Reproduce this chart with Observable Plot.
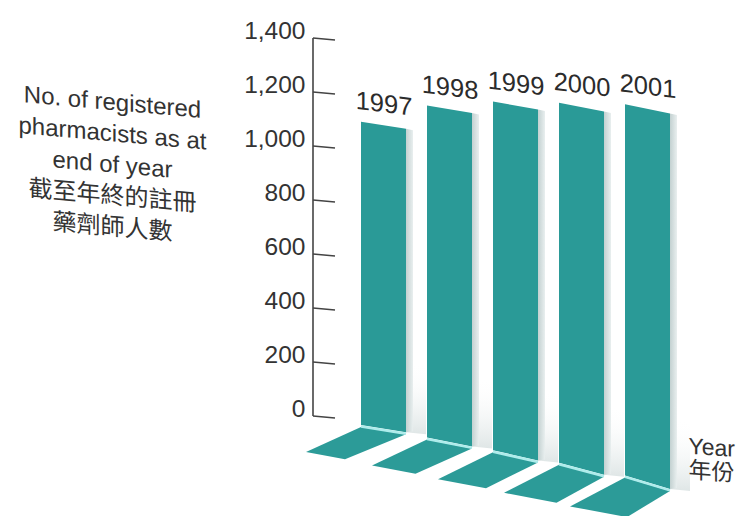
<!DOCTYPE html>
<html><head><meta charset="utf-8">
<script src="https://cdn.jsdelivr.net/npm/d3@7"></script>
<script src="https://cdn.jsdelivr.net/npm/@observablehq/plot@0.6"></script>
<style>
body{margin:0;background:#fff;}
#chart{width:739px;height:516px;}
</style>
</head><body><div id="chart"></div>
<script>
// ---- data ----
const years = ["1997", "1998", "1999", "2000", "2001"];
const pharmacists = [1090, 1150, 1165, 1160, 1155];
const yTicks = [0, 200, 400, 600, 800, 1000, 1200, 1400];
const yTitleLines = ["No. of registered", "pharmacists as at", "end of year", "截至年終的註冊", "藥劑師人數"];
const xTitleLines = ["Year", "年份"];

const table = years.map((year, i) => ({year, value: pharmacists[i]}));

const TEAL = "#2a9a97", FLOOR = "#2c9b98", EDGE = "#aeeceb";

function bars3d(index, scales, values, dims) {
  const g = d3.create("svg:g");
  const defs = g.append("defs");
  const sg = defs.append("linearGradient").attr("id", "sideGrad").attr("x1", 0).attr("x2", 1).attr("y1", 0).attr("y2", 0);
  sg.append("stop").attr("offset", 0).attr("stop-color", "#c3d1d1");
  sg.append("stop").attr("offset", 1).attr("stop-color", "#e9efef");
  const wg = defs.append("linearGradient").attr("id", "wallGrad").attr("x1", 0).attr("x2", 0).attr("y1", 0).attr("y2", 1);
  wg.append("stop").attr("offset", 0).attr("stop-color", "#ffffff").attr("stop-opacity", 0);
  wg.append("stop").attr("offset", 1).attr("stop-color", "#dfe6e6").attr("stop-opacity", 1);
  const x = scales.x, y = scales.y;
  const bw = x.bandwidth();
  const y0 = y(0);
  table.forEach((d, i) => {
    const xl = x(d.year), xr = xl + bw;
    const tl = y(d.value);
    const tr = tl + bw * (0.155 + 0.013 * i);
    const bl = y0 + 9 + 12.6 * i;
    const br = bl + bw * (0.16 + 0.035 * i);
    g.append("polygon")
      .attr("points", [[xr, br - 70], [xr + 20, br - 66], [xr + 20, br + 2], [xr, br]].join(" "))
      .attr("fill", "url(#wallGrad)");
    g.append("polygon")
      .attr("points", [[xr, tr], [xr + 7, tr + 1.5], [xr + 7, br - 1], [xr, br]].join(" "))
      .attr("fill", "url(#sideGrad)");
    const vl = [-55, 25 + i], vr = [-61 + 4.5 * i, 25 + 0.3 * i];
    g.append("polygon")
      .attr("points", [[xl, bl + 2], [xr, br + 2], [xr + vr[0], br + 2 + vr[1]], [xl + vl[0], bl + 2 + vl[1]]].join(" "))
      .attr("fill", FLOOR);
    g.append("polygon")
      .attr("points", [[xl, tl], [xr, tr], [xr, br], [xl, bl]].join(" "))
      .attr("fill", TEAL);
    g.append("line")
      .attr("x1", xl).attr("y1", bl + 1.5).attr("x2", xr).attr("y2", br + 1.5)
      .attr("stroke", EDGE).attr("stroke-width", 2.5);
  });
  return g.node();
}

function axisLine(index, scales, values, dims) {
  const g = d3.create("svg:g").attr("stroke", "#444").attr("stroke-width", 1.6).attr("fill", "none");
  const ax = dims.marginLeft - 48;
  const y = scales.y;
  g.append("line").attr("x1", ax).attr("x2", ax)
    .attr("y1", y(d3.max(yTicks))).attr("y2", y(0));
  for (const t of yTicks) {
    g.append("line").attr("x1", ax).attr("x2", ax + 22)
      .attr("y1", y(t)).attr("y2", y(t) + 2);
  }
  return g.node();
}

const chart = Plot.plot({
  width: 739,
  height: 516,
  marginTop: 38,
  marginBottom: 100,
  marginLeft: 361,
  marginRight: 69,
  style: {
    fontFamily: "'Liberation Sans', Arial, 'Noto Sans CJK TC', sans-serif",
    fontSize: "24px",
    color: "#333",
    background: "#fff",
    overflow: "visible"
  },
  x: {type: "band", domain: years, paddingInner: 0.32, paddingOuter: 0, axis: null},
  y: {domain: [0, 1400], axis: null},
  marks: [
    bars3d,
    axisLine,
    Plot.axisY(yTicks, {anchor: "left", tickSize: 0, tickPadding: 0, dx: -56, dy: -7, label: null, fontSize: 24.5, fill: "#333"}),
    Plot.text(table, {x: "year", y: "value", text: "year", dy: -10, lineAnchor: "bottom", fontSize: 25.5, fill: "#2b2b2b"}),
    Plot.text([yTitleLines.join("\n")], {text: d => d, frameAnchor: "top-left", dx: 112 - 361, dy: 162 - 38, textAnchor: "middle", lineAnchor: "middle", lineHeight: 1.3, fontSize: 24, fill: "#333"}),
    Plot.text([xTitleLines.join("\n")], {text: d => d, frameAnchor: "top-left", dx: 688 - 361, dy: 436 - 38, textAnchor: "start", lineAnchor: "top", lineHeight: 1.05, fontSize: 23, fill: "#333"})
  ]
});

document.getElementById("chart").append(chart);

// shear labels like the reference, about each text's own anchor point
const skewFor = txt => years.includes(txt) ? 7
  : txt.startsWith(yTitleLines[0]) ? 5
  : txt.startsWith(xTitleLines[0]) ? 4 : 0;
d3.select(chart).selectAll("text").each(function () {
  const a = skewFor(this.textContent);
  if (!a) return;
  const xa = parseFloat(this.getAttribute("x")) || 0;
  const ya = parseFloat(this.getAttribute("y")) || 0;
  let px = xa, py = ya;
  const tl = this.transform && this.transform.baseVal;
  if (tl && tl.numberOfItems) {
    const m = tl.consolidate().matrix;
    px = m.a * xa + m.c * ya + m.e;
    py = m.b * xa + m.d * ya + m.f;
  }
  const wrap = document.createElementNS("http://www.w3.org/2000/svg", "g");
  wrap.setAttribute("transform", `translate(${px},${py}) skewY(${a}) translate(${-px},${-py})`);
  this.parentNode.insertBefore(wrap, this);
  wrap.appendChild(this);
});
</script>
</body></html>
